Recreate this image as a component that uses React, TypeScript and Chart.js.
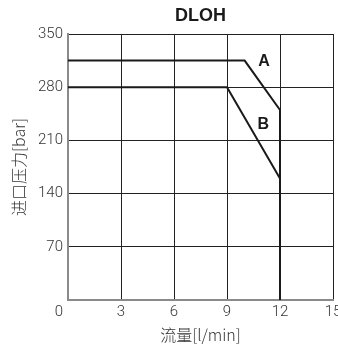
import React, { useEffect, useRef } from "react";
import { Chart, registerables } from "chart.js";

Chart.register(...registerables);

// Flow (l/min) and inlet pressure (bar) for the two curves
const flowA = [0, 10, 12, 12];
const pressureA = [315, 315, 250, 0];
const flowB = [0, 9, 12, 12];
const pressureB = [280, 280, 160, 0];

const xTicks = [0, 3, 6, 9, 12, 15];
const yTicks = [0, 70, 140, 210, 280, 350];

const curveLabels = ["A", "B"];
const chartTitle = "DLOH";
const xTitle = "流量[l/min]";
const yTitle = "进口压力[bar]";

const tickFont = { family: "Roboto", size: 15, weight: "300" as const };
const cjkFont = { family: "'Noto Sans CJK SC', 'Noto Sans'", size: 16, weight: "300" as const };

const toPoints = (xs: number[], ys: number[]) => xs.map((x, i) => ({ x, y: ys[i] }));

// Draws the heading and the curve letters next to the sloped segments
const annotations = {
  id: "annotations",
  afterDatasetsDraw(chart: any) {
    const { ctx, scales, chartArea } = chart;
    ctx.save();
    ctx.fillStyle = "#1a1a1a";
    ctx.textAlign = "center";
    ctx.textBaseline = "middle";
    ctx.font = "bold 18px 'Liberation Sans', Arial, sans-serif";
    ctx.fillText(chartTitle, (chartArea.left + chartArea.right) / 2, 16);
    ctx.font = "bold 16px 'Liberation Sans', Arial, sans-serif";
    ctx.fillText(curveLabels[0], scales.x.getPixelForValue(11.1), scales.y.getPixelForValue(314));
    ctx.fillText(curveLabels[1], scales.x.getPixelForValue(11.05), scales.y.getPixelForValue(231));
    ctx.restore();
  },
};

export default function App() {
  const ref = useRef<HTMLCanvasElement>(null);

  useEffect(() => {
    document.body.style.margin = "0";
    const chart = new Chart(ref.current!, {
      type: "scatter",
      data: {
        datasets: [
          {
            label: curveLabels[0],
            data: toPoints(flowA, pressureA),
            showLine: true,
            borderColor: "#1a1a1a",
            borderWidth: 2,
            pointRadius: 0,
          },
          {
            label: curveLabels[1],
            data: toPoints(flowB, pressureB),
            showLine: true,
            borderColor: "#1a1a1a",
            borderWidth: 2,
            pointRadius: 0,
          },
        ],
      },
      options: {
        animation: false,
        responsive: false,
        layout: { padding: { top: 34, right: 5, left: 0, bottom: 0 } },
        plugins: { legend: { display: false }, tooltip: { enabled: false }, title: { display: false } },
        scales: {
          x: {
            type: "linear",
            min: 0,
            max: 15,
            afterBuildTicks: (s: any) => {
              s.ticks = xTicks.map((v) => ({ value: v }));
            },
            afterFit: (s: any) => {
              s.height = 46;
              // let the last tick label run past the edge instead of shrinking the plot
              s.paddingLeft = 0;
              s.paddingRight = 0;
            },
            ticks: {
              font: tickFont,
              color: "#333",
              padding: 3,
              maxRotation: 0,
              autoSkip: false,
              // the shared origin label sits left of the corner, under the y labels
              callback: (v: any) => (v === 0 ? "0     " : String(v)),
            },
            grid: { color: "#222", lineWidth: 1, drawTicks: false },
            border: { color: "#8a8a8a", width: 2 },
            title: { display: true, text: xTitle, font: cjkFont, color: "#333", padding: { top: 0, bottom: 1 } },
          },
          y: {
            type: "linear",
            min: 0,
            max: 350,
            afterBuildTicks: (s: any) => {
              s.ticks = yTicks.map((v) => ({ value: v }));
            },
            afterFit: (s: any) => {
              s.width = 68;
              s.paddingTop = 0;
              s.paddingBottom = 0;
            },
            ticks: {
              font: tickFont,
              color: "#333",
              padding: 5,
              autoSkip: false,
              callback: (v: any) => (v === 0 ? "" : String(v)),
            },
            grid: { color: "#222", lineWidth: 1, drawTicks: false },
            border: { color: "#8a8a8a", width: 2 },
            title: { display: true, text: yTitle, font: cjkFont, color: "#333", padding: { top: 9, bottom: 0 } },
          },
        },
      },
      plugins: [annotations],
    });
    return () => chart.destroy();
  }, []);

  return (
    <div style={{ position: "absolute", left: 0, top: 0, width: 338, height: 346 }}>
      <canvas ref={ref} width={338} height={346} />
    </div>
  );
}
